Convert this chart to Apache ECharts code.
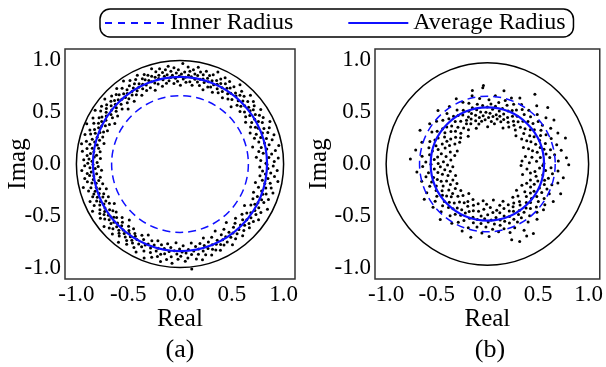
<!DOCTYPE html>
<html>
<head>
<meta charset="utf-8">
<script src="https://cdn.jsdelivr.net/npm/echarts@6/dist/echarts.min.js"></script>
<style>html,body{margin:0;padding:0;background:#fff}#c{width:606px;height:367px}</style>
</head>
<body>
<div id="c"></div>
<script>
// ---- data ----
const panelLabels = ['(a)', '(b)'];
const seriesNames = ['Inner Radius', 'Average Radius'];
const tickValues = [-1, -0.5, 0, 0.5, 1];
const unitRadius = [1, 1];
const innerRadius = [0.66, 0.67];
const averageRadius = [0.84, 0.56];
// scatter samples as [radius, angle in degrees]
const pointsA = [
[0.83,0.5],[0.91,1.5],[0.78,2.5],[0.95,3.5],[0.86,4.2],[0.74,5.1],[0.89,6.3],[0.81,7.4],[0.93,8.1],[0.77,9.0],[0.85,9.8],[0.97,10.6],[0.80,11.5],[0.88,12.2],[0.72,13.1],[0.84,13.9],[0.92,14.8],[0.79,15.6],[0.87,16.5],[0.95,17.3],[0.82,18.2],[0.76,19.0],[0.90,19.7],
[0.85,20.6],[0.79,21.3],[0.93,22.1],[0.88,23.0],[0.74,23.8],[0.83,24.5],[0.96,25.3],[0.81,26.0],[0.89,26.8],[0.77,27.7],[0.86,28.4],[0.92,29.2],[0.80,30.1],[0.84,30.9],[0.90,31.6],[0.75,32.4],[0.87,33.3],[0.94,34.0],[0.82,34.8],[0.78,35.7],[0.88,36.5],[0.85,37.2],[0.91,38.1],[0.80,38.9],[0.86,39.6],
[0.93,40.4],[0.77,41.2],[0.84,42.0],[0.89,42.7],[0.81,43.5],[0.95,44.3],[0.86,45.1],[0.79,45.8],[0.90,46.6],[0.83,47.4],[0.74,48.2],[0.88,48.9],[0.92,49.7],[0.85,50.5],[0.80,51.2],[0.87,52.0],[0.96,52.9],[0.78,53.6],[0.84,54.3],[0.91,55.1],[0.82,55.9],[0.88,56.6],[0.76,57.4],[0.86,58.2],[0.93,59.0],[0.81,59.7],
[0.89,60.5],[0.84,61.1],[0.78,61.8],[0.94,62.4],[0.87,63.1],[0.81,63.7],[0.91,64.4],[0.85,65.0],[0.76,65.7],[0.88,66.3],[0.83,67.0],[0.96,67.6],[0.80,68.3],[0.86,68.9],[0.92,69.6],[0.79,70.2],[0.84,70.9],[0.90,71.5],[0.87,72.2],[0.75,72.8],[0.82,73.5],[0.93,74.1],[0.85,74.8],[0.89,75.4],[0.78,76.1],[0.84,76.7],[0.91,77.4],[0.81,78.0],[0.87,78.7],[0.95,79.3],
[0.83,80.0],[0.88,80.6],[0.77,81.3],[0.92,81.9],[0.85,82.6],[0.80,83.2],[0.90,83.9],[0.86,84.5],[0.94,85.2],[0.79,85.8],[0.84,86.5],[0.89,87.1],[0.82,87.8],[0.97,88.4],[0.87,89.1],[0.76,89.7],[0.85,90.4],[0.91,91.0],[0.80,91.7],[0.88,92.3],[0.83,93.0],[0.93,93.6],[0.78,94.3],[0.86,94.9],[0.90,95.6],[0.84,96.2],[0.95,96.9],[0.81,97.5],[0.87,98.2],[0.92,98.8],[0.79,99.5],
[0.86,100.1],[0.90,100.8],[0.83,101.4],[0.94,102.1],[0.77,102.7],[0.88,103.4],[0.85,104.0],[0.92,104.7],[0.80,105.3],[0.87,106.0],[0.96,106.6],[0.82,107.3],[0.89,107.9],[0.75,108.6],[0.84,109.2],[0.91,109.9],[0.86,110.5],[0.79,111.2],[0.93,111.8],[0.88,112.5],[0.83,113.1],[0.90,113.8],[0.78,114.4],[0.85,115.1],[0.95,115.7],[0.81,116.4],[0.87,117.0],[0.92,117.7],[0.84,118.3],[0.76,119.0],[0.89,119.6],
[0.82,120.3],[0.94,120.9],[0.86,121.6],[0.79,122.2],[0.90,122.9],[0.84,123.5],[0.97,124.2],[0.81,124.8],[0.88,125.5],[0.75,126.1],[0.85,126.8],[0.92,127.4],[0.80,128.1],[0.87,128.7],[0.83,129.4],[0.95,130.0],[0.78,130.7],[0.89,131.3],[0.84,132.0],[0.91,132.6],[0.73,133.3],[0.86,133.9],[0.81,134.6],[0.93,135.2],[0.88,135.9],[0.77,136.5],[0.85,137.2],[0.90,137.8],[0.82,138.5],[0.96,139.1],[0.87,139.8],
[0.80,140.4],[0.91,141.1],[0.84,141.7],[0.76,142.4],[0.89,143.0],[0.94,143.7],[0.82,144.3],[0.87,145.0],[0.79,145.6],[0.92,146.3],[0.85,146.9],[0.97,147.6],[0.74,148.2],[0.88,148.9],[0.83,149.5],[0.90,150.2],[0.78,150.8],[0.86,151.5],[0.95,152.1],[0.81,152.8],[0.88,153.4],[0.84,154.1],[0.92,154.7],[0.77,155.4],[0.86,156.0],[0.98,156.7],[0.80,157.3],[0.89,158.0],[0.83,158.6],[0.93,159.3],
[0.87,160.0],[0.79,160.7],[0.91,161.4],[0.84,162.1],[0.96,162.8],[0.81,163.5],[0.88,164.2],[0.76,164.9],[0.85,165.6],[0.93,166.3],[0.82,167.0],[0.89,167.7],[0.97,168.4],[0.80,169.1],[0.86,169.8],[0.91,170.5],[0.78,171.2],[0.84,171.9],[0.95,172.6],[0.87,173.3],[0.81,174.0],[0.90,174.7],[0.83,175.4],[0.77,176.1],[0.88,176.8],[0.93,177.5],[0.85,178.2],[0.80,178.9],[0.89,179.6],
[0.84,180.3],[0.92,181.0],[0.79,181.7],[0.87,182.4],[0.82,183.1],[0.95,183.8],[0.76,184.5],[0.86,185.2],[0.90,185.9],[0.81,186.6],[0.88,187.3],[0.84,188.0],[0.93,188.7],[0.78,189.4],[0.85,190.1],[0.91,190.8],[0.80,191.5],[0.87,192.2],[0.83,192.9],[0.96,193.6],[0.77,194.3],[0.89,195.0],[0.84,195.7],[0.92,196.4],[0.81,197.1],[0.86,197.8],[0.75,198.5],[0.88,199.2],
[0.83,200.0],[0.90,200.6],[0.79,201.3],[0.86,201.9],[0.94,202.6],[0.81,203.2],[0.88,203.9],[0.76,204.5],[0.85,205.2],[0.92,205.8],[0.80,206.5],[0.87,207.1],[0.83,207.8],[0.96,208.4],[0.78,209.1],[0.89,209.7],[0.84,210.4],[0.74,211.0],[0.91,211.7],[0.86,212.3],[0.81,213.0],[0.88,213.6],[0.93,214.3],[0.79,214.9],[0.85,215.6],[0.90,216.2],[0.77,216.9],[0.84,217.5],[0.87,218.2],[0.82,218.8],[0.95,219.5],
[0.80,220.1],[0.88,220.8],[0.85,221.4],[0.92,222.1],[0.76,222.7],[0.83,223.4],[0.90,224.0],[0.86,224.7],[0.79,225.3],[0.94,226.0],[0.82,226.6],[0.87,227.3],[0.73,227.9],[0.89,228.6],[0.84,229.2],[0.91,229.9],[0.78,230.5],[0.86,231.2],[0.96,231.8],[0.81,232.5],[0.88,233.1],[0.83,233.8],[0.77,234.4],[0.90,235.1],[0.85,235.7],[0.93,236.4],[0.80,237.0],[0.87,237.7],[0.82,238.3],[0.89,239.0],
[0.84,240.3],[0.92,241.1],[0.78,241.9],[0.87,242.7],[0.95,243.5],[0.81,244.3],[0.88,245.1],[0.75,245.9],[0.85,246.7],[0.91,247.5],[0.83,248.3],[0.97,249.1],[0.79,249.9],[0.86,250.7],[0.90,251.5],[0.82,252.3],[0.94,253.1],[0.77,253.9],[0.87,254.7],[0.84,255.5],[0.92,256.3],[0.80,257.1],[0.89,257.9],[0.96,258.7],[0.83,259.5],
[0.88,260.3],[0.78,261.2],[0.93,262.0],[0.85,262.9],[0.81,263.7],[0.90,264.6],[0.96,265.4],[0.84,266.3],[0.76,267.1],[0.87,268.0],[0.92,268.8],[0.82,269.7],[0.89,270.5],[0.85,271.4],[0.79,272.2],[0.94,273.1],[0.86,273.9],[0.91,274.8],[0.83,275.6],[1.02,276.4],[0.88,277.3],[0.77,278.1],[0.85,279.0],[0.93,279.8],
[0.81,280.7],[0.89,281.5],[0.84,282.4],[0.95,283.2],[0.79,284.1],[0.87,284.9],[0.91,285.8],[0.82,286.6],[0.75,287.5],[0.86,288.3],[0.93,289.2],[0.80,290.0],[0.88,290.9],[0.84,291.7],[0.90,292.6],[0.77,293.4],[0.85,294.3],[0.92,295.1],[0.82,296.0],[0.87,296.8],[0.73,297.7],[0.89,298.5],[0.84,299.4],
[0.79,300.3],[0.88,301.2],[0.83,302.1],[0.93,303.0],[0.76,303.9],[0.86,304.8],[0.81,305.7],[0.90,306.6],[0.84,307.5],[0.72,308.4],[0.87,309.3],[0.80,310.2],[0.92,311.1],[0.85,312.0],[0.78,312.9],[0.89,313.8],[0.83,314.7],[0.75,315.6],[0.86,316.5],[0.91,317.4],[0.81,318.3],[0.88,319.2],
[0.84,320.1],[0.77,321.0],[0.90,321.9],[0.86,322.8],[0.80,323.7],[0.93,324.6],[0.83,325.5],[0.88,326.4],[0.74,327.3],[0.85,328.2],[0.91,329.1],[0.79,330.0],[0.87,330.9],[0.82,331.8],[0.95,332.7],[0.84,333.6],[0.78,334.5],[0.89,335.4],[0.86,336.3],[0.81,337.2],[0.92,338.1],[0.76,339.0],[0.85,339.9],
[0.88,340.8],[0.83,341.7],[0.94,342.6],[0.79,343.5],[0.86,344.4],[0.91,345.3],[0.75,346.2],[0.84,347.1],[0.89,348.0],[0.81,348.9],[0.96,349.8],[0.86,350.7],[0.78,351.6],[0.92,352.5],[0.83,353.4],[0.88,354.3],[0.80,355.2],[0.94,356.1],[0.85,357.0],[0.77,357.9],[0.90,358.8],[0.84,359.6]
];
const pointsB = [
[0.52,0.6],[0.38,1.7],[0.66,2.5],[0.45,3.4],[0.74,4.6],[0.31,5.3],[0.58,6.2],[0.49,7.4],[0.63,8.1],[0.41,9.3],[0.55,10.2],[0.70,11.0],[0.35,12.1],[0.60,13.3],[0.47,14.0],[0.54,15.2],[0.67,16.1],[0.43,17.3],[0.51,18.2],[0.77,19.0],
[0.57,20.4],[0.40,21.5],[0.64,22.6],[0.48,23.4],[0.72,24.5],[0.53,25.6],[0.36,26.4],[0.61,27.5],[0.45,28.6],[0.56,29.4],[0.68,30.5],[0.50,31.6],[0.42,32.4],[0.59,33.5],[0.75,34.6],[0.47,35.4],[0.63,36.5],[0.54,37.6],[0.39,38.4],[0.70,39.5],
[0.51,40.3],[0.62,41.4],[0.44,42.2],[0.57,43.3],[0.78,44.4],[0.48,45.2],[0.66,46.3],[0.37,47.4],[0.55,48.2],[0.60,49.3],[0.46,50.4],[0.72,51.2],[0.52,52.3],[0.41,53.4],[0.64,54.2],[0.58,55.3],[0.49,56.4],[0.80,57.2],[0.44,58.3],[0.61,59.4],
[0.53,60.3],[0.47,61.2],[0.65,62.1],[0.40,63.0],[0.58,63.9],[0.51,64.8],[0.70,65.7],[0.44,66.6],[0.56,67.5],[0.62,68.4],[0.48,69.3],[0.37,70.2],[0.54,71.1],[0.67,72.0],[0.45,72.9],[0.59,73.8],[0.50,74.7],[0.42,75.6],[0.63,76.5],[0.55,77.4],[0.47,78.3],[0.72,79.2],
[0.52,80.1],[0.44,81.0],[0.60,81.9],[0.48,82.8],[0.39,83.7],[0.56,84.6],[0.66,85.5],[0.46,86.4],[0.53,87.3],[0.41,88.2],[0.58,89.1],[0.49,90.0],[0.62,90.9],[0.45,91.8],[0.55,92.7],[0.36,93.6],[0.50,94.5],[0.76,94.8],[0.74,95.4],[0.43,96.3],[0.57,97.2],[0.47,98.1],[0.64,99.0],
[0.51,100.2],[0.42,101.1],[0.59,102.0],[0.46,102.9],[0.73,103.5],[0.54,103.8],[0.68,104.7],[0.40,105.6],[0.49,106.5],[0.57,107.4],[0.44,108.3],[0.62,109.2],[0.52,110.1],[0.37,111.0],[0.55,111.9],[0.47,112.8],[0.65,113.7],[0.50,114.6],[0.43,115.5],[0.58,116.4],[0.71,117.3],[0.48,118.2],[0.54,119.1],
[0.45,120.3],[0.61,121.4],[0.39,122.2],[0.56,123.3],[0.50,124.4],[0.68,125.2],[0.43,126.3],[0.58,127.4],[0.34,128.2],[0.53,129.3],[0.64,130.4],[0.47,131.2],[0.59,132.3],[0.41,133.4],[0.72,134.2],[0.52,135.3],[0.46,136.4],[0.62,137.2],[0.38,138.3],[0.55,139.4],
[0.49,140.3],[0.66,141.4],[0.42,142.2],[0.57,143.3],[0.36,144.4],[0.53,145.2],[0.70,146.3],[0.45,147.4],[0.60,148.2],[0.51,149.3],[0.39,150.4],[0.64,151.2],[0.47,152.3],[0.56,153.4],[0.75,154.2],[0.43,155.3],[0.58,156.4],[0.50,157.2],[0.34,158.3],[0.62,159.4],
[0.46,160.3],[0.55,161.4],[0.69,162.2],[0.40,163.3],[0.52,164.4],[0.61,165.2],[0.35,166.3],[0.57,167.4],[0.48,168.2],[0.73,169.3],[0.43,170.4],[0.59,171.2],[0.51,172.3],[0.66,173.4],[0.38,174.2],[0.54,175.3],[0.77,176.4],[0.45,177.2],[0.62,178.3],[0.50,179.4],
[0.57,180.3],[0.41,181.4],[0.65,182.2],[0.48,183.3],[0.36,184.4],[0.54,185.2],[0.71,186.3],[0.44,187.4],[0.60,188.2],[0.51,189.3],[0.39,190.4],[0.63,191.2],[0.47,192.3],[0.56,193.4],[0.68,194.2],[0.42,195.3],[0.53,196.4],[0.59,197.2],[0.35,198.3],[0.50,199.4],
[0.62,200.3],[0.45,201.4],[0.56,202.2],[0.39,203.3],[0.67,204.4],[0.50,205.2],[0.58,206.3],[0.43,207.4],[0.72,208.2],[0.53,209.3],[0.37,210.4],[0.60,211.2],[0.47,212.3],[0.55,213.4],[0.64,214.2],[0.41,215.3],[0.52,216.4],[0.69,217.2],[0.46,218.3],[0.57,219.4],
[0.49,220.3],[0.61,221.4],[0.38,222.2],[0.54,223.3],[0.66,224.4],[0.44,225.2],[0.58,226.3],[0.51,227.4],[0.72,228.2],[0.40,229.3],[0.56,230.4],[0.47,231.2],[0.63,232.3],[0.53,233.4],[0.35,234.2],[0.59,235.3],[0.45,236.4],[0.68,237.2],[0.52,238.3],[0.42,239.4],
[0.57,240.3],[0.64,241.4],[0.46,242.2],[0.53,243.3],[0.38,244.4],[0.60,245.2],[0.50,246.3],[0.70,247.4],[0.43,248.2],[0.56,249.3],[0.48,250.4],[0.65,251.2],[0.54,252.3],[0.40,253.4],[0.59,254.2],[0.73,255.3],[0.47,256.4],[0.55,257.2],[0.62,258.3],[0.36,259.4],
[0.51,260.3],[0.58,261.4],[0.44,262.2],[0.67,263.3],[0.53,264.4],[0.39,265.2],[0.61,266.3],[0.49,267.4],[0.56,268.2],[0.70,269.3],[0.42,270.4],[0.54,271.2],[0.63,272.3],[0.47,273.4],[0.58,274.2],[0.35,275.3],[0.52,276.4],[0.66,277.2],[0.45,278.3],[0.60,279.4],
[0.55,280.3],[0.48,281.4],[0.64,282.2],[0.41,283.3],[0.57,284.4],[0.52,285.2],[0.76,286.0],[0.69,286.3],[0.45,287.4],[0.60,288.2],[0.38,289.3],[0.54,290.4],[0.80,291.0],[0.66,291.2],[0.49,292.3],[0.58,293.4],[0.43,294.2],[0.62,295.3],[0.51,296.4],[0.78,297.0],[0.72,297.2],[0.47,298.3],[0.56,299.4],
[0.60,300.3],[0.44,301.4],[0.79,302.0],[0.53,302.2],[0.67,303.3],[0.39,304.4],[0.57,305.2],[0.49,306.3],[0.63,307.4],[0.46,308.2],[0.55,309.3],[0.70,310.4],[0.41,311.2],[0.58,312.3],[0.51,313.4],[0.65,314.2],[0.36,315.3],[0.54,316.4],[0.61,317.2],[0.47,318.3],[0.68,319.4],
[0.52,320.3],[0.43,321.4],[0.59,322.2],[0.66,323.3],[0.48,324.4],[0.55,325.2],[0.37,326.3],[0.62,327.4],[0.50,328.2],[0.71,329.3],[0.45,330.4],[0.57,331.2],[0.40,332.3],[0.64,333.4],[0.53,334.2],[0.47,335.3],[0.60,336.4],[0.74,337.2],[0.42,338.3],[0.56,339.4],
[0.49,340.3],[0.63,341.4],[0.33,342.2],[0.55,343.3],[0.68,344.4],[0.46,345.2],[0.58,346.3],[0.40,347.4],[0.52,348.2],[0.72,349.3],[0.44,350.4],[0.61,351.2],[0.36,352.3],[0.54,353.4],[0.66,354.2],[0.48,355.3],[0.59,356.4],[0.30,357.2],[0.51,358.3],[0.76,359.4]
];

// ---- layout ----
const FONT = '"Liberation Serif","Times New Roman",serif';
const AX = 1.11;
const grids = [
  {left: 65, top: 49, width: 230, height: 230},
  {left: 375, top: 49, width: 230, height: 230}
];
const yNameGap = [34, 43];

const chart = echarts.init(document.getElementById('c'), null, {renderer: 'canvas'});

function circleSeries(gi, r, color, width, dash, z) {
  return {
    type: 'custom', xAxisIndex: gi, yAxisIndex: gi, clip: false, silent: true, z: z,
    data: [[0, 0, r]],
    renderItem: function (params, api) {
      const c = api.coord([api.value(0), api.value(1)]);
      const rp = api.size([api.value(2), 0])[0];
      return {type: 'circle', shape: {cx: c[0], cy: c[1], r: rp},
        style: {fill: 'none', stroke: color, lineWidth: width, lineDash: dash}};
    }
  };
}

const xAxes = [], yAxes = [], polars = [], angleAxes = [], radiusAxes = [], series = [];
grids.forEach(function (g, i) {
  const common = {
    type: 'value', min: -AX, max: AX, gridIndex: i, nameMoveOverlap: false,
    axisLine: {show: false}, axisTick: {show: false}, splitLine: {show: false},
    nameTextStyle: {fontFamily: FONT, fontSize: 25, color: '#000'},
    axisLabel: {customValues: tickValues, fontFamily: FONT, fontSize: 23, color: '#000', margin: 4,
      formatter: function (v) { return v.toFixed(1); }}
  };
  xAxes.push(Object.assign({}, common, {name: 'Real', nameLocation: 'middle', nameGap: 28}));
  yAxes.push(Object.assign({}, common, {name: 'Imag', nameLocation: 'middle', nameGap: yNameGap[i], nameRotate: 90}));
  polars.push({center: [g.left + g.width / 2, g.top + g.height / 2], radius: g.width / 2});
  angleAxes.push({polarIndex: i, type: 'value', min: 0, max: 360, startAngle: 0, clockwise: false, show: false});
  radiusAxes.push({polarIndex: i, type: 'value', min: 0, max: AX, show: false});
});

[pointsA, pointsB].forEach(function (pts, i) {
  series.push({type: 'scatter', coordinateSystem: 'polar', polarIndex: i, data: pts,
    symbol: 'circle', symbolSize: 3, itemStyle: {color: '#000', opacity: 1}, silent: true, z: 2});
  series.push(circleSeries(i, unitRadius[i], '#000', 1.5, null, 3));
  series.push(circleSeries(i, innerRadius[i], '#1010ff', 1.5, [8, 5], 4));
  series.push(circleSeries(i, averageRadius[i], '#1010ff', 2.2, null, 4));
});
// legend proxies
series.push({type: 'line', name: seriesNames[0], xAxisIndex: 0, yAxisIndex: 0, data: [], symbol: 'none', showSymbol: false,
  lineStyle: {color: '#1010ff', width: 2, type: [7, 6]}, itemStyle: {color: '#1010ff'}});
series.push({type: 'line', name: seriesNames[1], xAxisIndex: 0, yAxisIndex: 0, data: [], symbol: 'none', showSymbol: false,
  lineStyle: {color: '#1010ff', width: 2.2}, itemStyle: {color: '#1010ff'}});

chart.setOption({
  animation: false,
  backgroundColor: '#fff',
  grid: grids.map(function (g) { return Object.assign({show: true, borderColor: '#333', borderWidth: 1.5, backgroundColor: 'transparent'}, g); }),
  xAxis: xAxes, yAxis: yAxes,
  polar: polars, angleAxis: angleAxes, radiusAxis: radiusAxes,
  legend: {
    data: seriesNames, left: 100, top: 9, itemWidth: 60, itemHeight: 14, itemGap: 54,
    padding: [2, 8, 2, 4], borderColor: '#000', borderWidth: 1.5, borderRadius: 10,
    itemStyle: {opacity: 0},
    textStyle: {fontFamily: FONT, fontSize: 24, color: '#000'}
  },
  graphic: panelLabels.map(function (t, i) {
    return {type: 'text', x: grids[i].left + grids[i].width / 2, y: 350,
      style: {text: t, font: '26px ' + FONT, fill: '#000', align: 'center', verticalAlign: 'middle'}};
  }),
  series: series
});
</script>
</body>
</html>
